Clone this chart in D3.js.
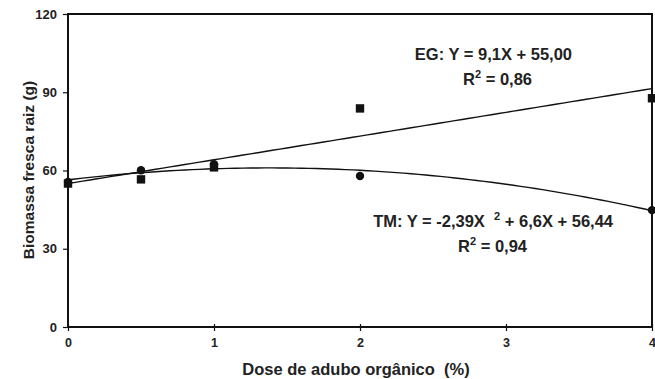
<!DOCTYPE html>
<html>
<head>
<meta charset="utf-8">
<script src="https://cdn.jsdelivr.net/npm/d3@7"></script>
<style>
  body { margin: 0; background: #fff; }
  text { font-family: "Liberation Sans", Arial, sans-serif; font-weight: bold; fill: #222; white-space: pre; }
</style>
</head>
<body>
<svg id="chart"></svg>
<script>
// Data
const doses = [0, 0.5, 1, 2, 4];
const egValues = [55.0, 56.6, 61.2, 83.8, 87.7];   // squares
const tmValues = [55.6, 60.1, 62.4, 57.9, 44.8];   // circles
// Fitted equations shown on the chart (coefficients a0, a1, a2)
const egCoef = [55.00, 9.1, 0];
const tmCoef = [56.44, 6.6, -2.39];
const xTicks = [0, 1, 2, 3, 4];
const yTicks = [0, 30, 60, 90, 120];

const W = 655, H = 379;
const margin = { top: 14, right: 3, bottom: 52, left: 68 },
    width = W - margin.left - margin.right,
    height = H - margin.top - margin.bottom;

const svg = d3.select("#chart")
    .attr("width", W)
    .attr("height", H)
    .append("g")
    .attr("transform", `translate(${margin.left},${margin.top})`);

const x = d3.scaleLinear().domain([0, 4]).range([0, width]);
const y = d3.scaleLinear().domain([0, 120]).range([height, 0]);

// frame
svg.append("rect")
    .attr("width", width)
    .attr("height", height)
    .attr("fill", "none")
    .attr("stroke", "#111")
    .attr("stroke-width", 2);

// X axis
const xAxis = svg.append("g")
    .attr("transform", `translate(0,${height})`)
    .call(d3.axisBottom(x).tickValues(xTicks).tickFormat(d3.format("d")).tickSize(4).tickPadding(7));
xAxis.select(".domain").remove();
xAxis.selectAll("line").attr("y1", -3).attr("stroke", "#111").attr("stroke-width", 1.2);
xAxis.selectAll("text").style("font-size", "12.5px").style("font-family", "Liberation Sans, Arial, sans-serif");

// Y axis
const yAxis = svg.append("g")
    .call(d3.axisLeft(y).tickValues(yTicks).tickSize(5).tickPadding(6));
yAxis.select(".domain").remove();
yAxis.selectAll("line").attr("stroke", "#111").attr("stroke-width", 1.2);
yAxis.selectAll("text").style("font-size", "13px").style("font-family", "Liberation Sans, Arial, sans-serif");

// trend curves
const curveX = d3.range(0, 4.001, 0.05);
const poly = (c, v) => c[0] + c[1] * v + c[2] * v * v;
const line = d3.line().x(d => x(d[0])).y(d => y(d[1]));

[egCoef, tmCoef].forEach(c => {
    svg.append("path")
        .datum(curveX.map(v => [v, poly(c, v)]))
        .attr("d", line)
        .attr("fill", "none")
        .attr("stroke", "#111")
        .attr("stroke-width", 1.4);
});

// markers
svg.selectAll(".tm")
    .data(doses.map((d, i) => [d, tmValues[i]]))
    .enter()
    .append("circle")
    .attr("cx", d => x(d[0]))
    .attr("cy", d => y(d[1]))
    .attr("r", 4.2)
    .attr("fill", "#111");

svg.selectAll(".eg")
    .data(doses.map((d, i) => [d, egValues[i]]))
    .enter()
    .append("rect")
    .attr("x", d => x(d[0]) - 4.2)
    .attr("y", d => y(d[1]) - 4.2)
    .attr("width", 8.4)
    .attr("height", 8.4)
    .attr("fill", "#111");

// equations
const eq = svg.append("g").style("font-size", "16.5px").attr("text-anchor", "end");
eq.append("text").attr("x", 504).attr("y", 46).text("EG: Y = 9,1X + 55,00");
const r1 = eq.append("text").attr("x", 464).attr("y", 71);
r1.append("tspan").text("R");
r1.append("tspan").attr("dy", -7).style("font-size", "11px").text("2");
r1.append("tspan").attr("dy", 7).text(" = 0,86");

const t2 = eq.append("text").attr("x", 545).attr("y", 213);
t2.append("tspan").text("TM: Y = -2,39X  ");
t2.append("tspan").attr("dy", -7).style("font-size", "11px").text("2");
t2.append("tspan").attr("dy", 7).text(" + 6,6X + 56,44");
const r2 = eq.append("text").attr("x", 459).attr("y", 238);
r2.append("tspan").text("R");
r2.append("tspan").attr("dy", -7).style("font-size", "11px").text("2");
r2.append("tspan").attr("dy", 7).text(" = 0,94");

// axis labels
svg.append("text")
    .attr("x", 288)
    .attr("y", height + 48)
    .attr("text-anchor", "middle")
    .style("font-size", "16.5px")
    .text("Dose de adubo orgânico  (%)");

svg.append("text")
    .attr("transform", `translate(${-34},${156}) rotate(-90)`)
    .attr("text-anchor", "middle")
    .style("font-size", "15.5px")
    .text("Biomassa fresca raiz (g)");
</script>
</body>
</html>
